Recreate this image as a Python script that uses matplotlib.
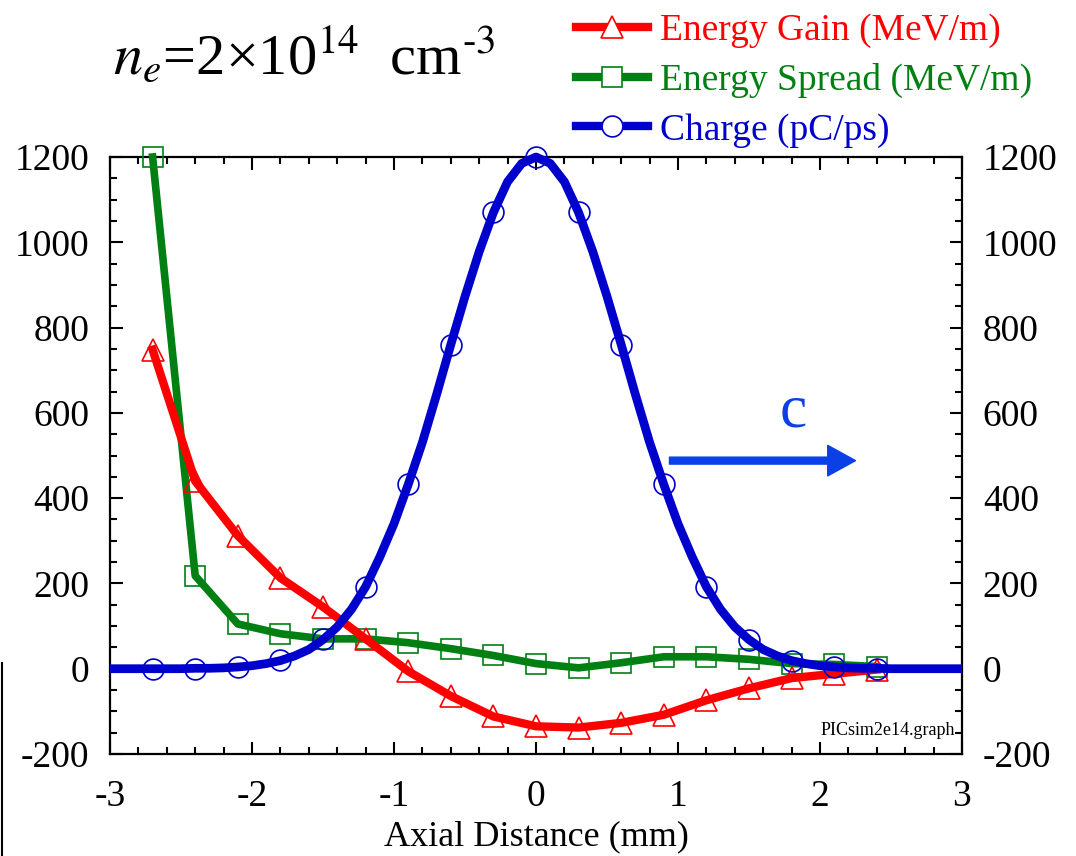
import matplotlib
matplotlib.use('Agg')
import matplotlib.pyplot as plt
from matplotlib.lines import Line2D
from matplotlib.ticker import MultipleLocator
import numpy as np

plt.rcParams['font.family'] = ['Liberation Serif', 'DejaVu Serif']
plt.rcParams['mathtext.fontset'] = 'stix'
plt.rcParams['axes.unicode_minus'] = False

# Simulation sample points along the beam (mm)
axial_pts = [-2.7, -2.4, -2.1, -1.8, -1.5, -1.2, -0.9, -0.6, -0.3, 0.0,
             0.3, 0.6, 0.9, 1.2, 1.5, 1.8, 2.1, 2.4]
energy_gain = [748, 440, 312, 213, 145, 70, -6, -64, -112, -135,
               -138, -127, -108, -74, -46, -22, -12, -2]
energy_spread = [1200, 218, 105, 82, 70, 70, 61, 47, 31, 12,
                 2, 14, 28, 28, 22, 12, 10, 5]
charge_pts = [0, 0, 3, 20, 70, 192, 432, 760, 1070, 1200,
              1070, 760, 432, 192, 68, 18, 3, 0]

# Smooth charge profile across the full window, 0.1 mm steps
charge_curve_x = np.round(np.arange(-3.0, 3.01, 0.1), 2)
charge_half = [1200, 1185, 1142, 1070, 978, 873, 760, 643, 531, 432, 340,
               262, 192, 139, 98, 68, 45, 30, 19, 12, 7, 4, 2, 1, 1, 0,
               0, 0, 0, 0, 0]
charge_curve = charge_half[::-1] + charge_half[1:]

RED = '#ff0000'
GREEN = '#008012'
BLUE = '#0000cc'
ARROW = '#0a40e6'

fig = plt.figure(figsize=(10.76, 8.56), dpi=100)
ax = fig.add_axes([110 / 1076, 1 - 754 / 856, 852 / 1076, 597 / 856])

ax.plot(axial_pts, energy_spread, color=GREEN, lw=5.5, marker='s', ms=14,
        mfc='none', mec=GREEN, mew=1.2, zorder=3, clip_on=False)
ax.plot(axial_pts, energy_gain, color=RED, lw=6, marker='^', ms=16,
        mfc='none', mec=RED, mew=1.2, zorder=4, clip_on=False)
ax.plot(charge_curve_x, charge_curve, color=BLUE, lw=6.3, zorder=5,
        solid_joinstyle='round', solid_capstyle='butt', clip_on=False)
ax.plot(axial_pts, charge_pts, ls='none', marker='o', ms=15,
        mfc='none', mec=BLUE, mew=1.2, zorder=6, clip_on=False)

ax.set_xlim(-3, 3)
ax.set_ylim(-200, 1200)
ax.xaxis.set_major_locator(MultipleLocator(1))
ax.xaxis.set_minor_locator(MultipleLocator(0.2))
ax.yaxis.set_major_locator(MultipleLocator(200))
ax.yaxis.set_minor_locator(MultipleLocator(50))
ax.tick_params(which='both', direction='in', top=True, right=True,
               labelright=True, width=1.5, labelsize=27)
ax.tick_params(which='major', length=9)
ax.tick_params(which='minor', length=5)
ax.tick_params(axis='y', pad=15)
ax.tick_params(axis='x', pad=18)
for sp in ax.spines.values():
    sp.set_linewidth(1.6)

ax.set_xlabel('Axial Distance (mm)', fontsize=26, labelpad=5)

# beam direction arrow
ax.annotate('', xy=(2.25, 488), xytext=(0.94, 488),
            arrowprops=dict(width=5, headwidth=22, headlength=20,
                            color=ARROW, shrink=0))
ax.text(1.81, 568, 'c', color=ARROW, fontsize=44, ha='center', va='baseline')
ax.text(0.992, 0.025, 'PICsim2e14.graph', transform=ax.transAxes,
        fontsize=13, ha='right', va='bottom')

fig.text(113 / 1076, 1 - 74 / 856,
         r'$n_e$=2×10$^{14}$  cm$^{\text{-}3}$',
         fontsize=42, ha='left', va='baseline')

handles = [
    Line2D([], [], color=RED, lw=6, marker='^', ms=16, mfc='white',
           mec=RED, mew=1.2),
    Line2D([], [], color=GREEN, lw=6, marker='s', ms=14, mfc='white',
           mec=GREEN, mew=1.2),
    Line2D([], [], color=BLUE, lw=6, marker='o', ms=15, mfc='white',
           mec=BLUE, mew=1.2),
]
labels = ['Energy Gain (MeV/m)', 'Energy Spread (MeV/m)', 'Charge (pC/ps)']
leg = fig.legend(handles, labels, loc='upper left',
                 bbox_to_anchor=(550 / 1076, 1 + 13 / 856), frameon=False,
                 fontsize=27, handlelength=1.9, handletextpad=0.33,
                 labelspacing=0.4, borderpad=0.2)
for txt, c in zip(leg.get_texts(), [RED, GREEN, BLUE]):
    txt.set_color(c)

fig.add_artist(Line2D([2 / 1076, 2 / 1076], [0, 1 - 663 / 856],
                      transform=fig.transFigure, color='black', lw=1.5))

fig.savefig('out.png', dpi=100)
